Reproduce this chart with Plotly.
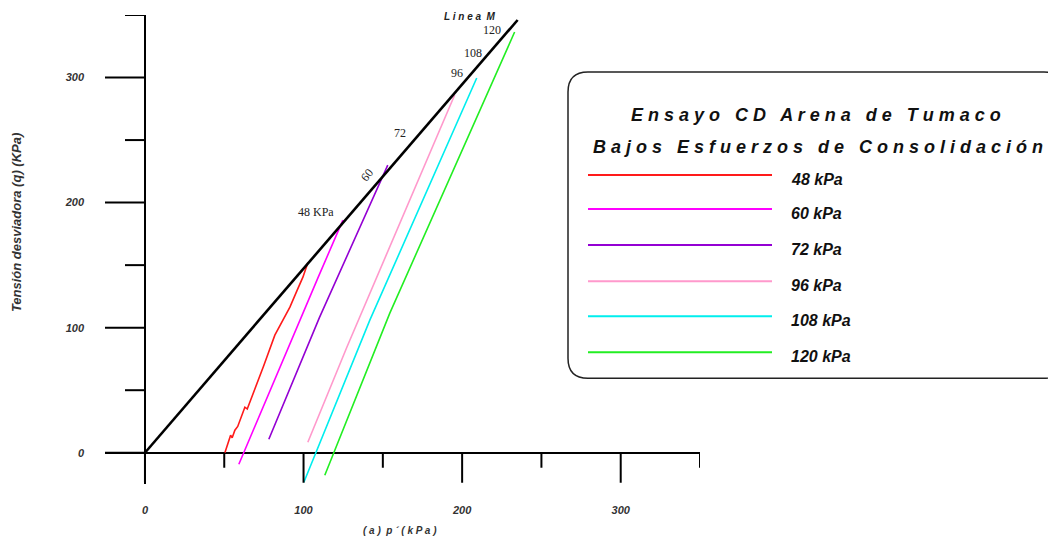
import plotly.graph_objects as go

# ---------------- data ----------------
series_names = ["48 kPa", "60 kPa", "72 kPa", "96 kPa", "108 kPa", "120 kPa"]
series_colors = ["#ff1a1a", "#ff00ff", "#9400d3", "#ff99cc", "#00eeee", "#22ee22"]

p_48 = [50.4, 52.5, 54.0, 55.0, 56.7, 58.5, 61.0, 63.0, 64.5, 66.0, 68.1, 75.0, 81.9, 86.0, 91.4, 96.0, 99.6, 102.7]
q_48 = [0.0, 8.0, 14.0, 12.0, 18.0, 21.0, 30.0, 36.4, 35.0, 40.0, 46.0, 70.0, 94.0, 104.0, 116.4, 130.0, 140.4, 152.0]

p_60 = [59.2, 89.5, 109.0, 124.8]
q_60 = [-9.2, 82.0, 139.6, 186.0]

p_72 = [78.1, 110.0, 153.1]
q_72 = [10.8, 108.0, 230.0]

p_96 = [102.7, 127.3, 195.3]
q_96 = [8.4, 84.4, 286.0]

p_108 = [100.2, 141.8, 209.2]
q_108 = [-23.6, 106.0, 299.6]

p_120 = [113.4, 154.4, 233.1]
q_120 = [-18.0, 111.6, 336.4]

line_m_p = [0.0, 235.0]
line_m_q = [0.0, 346.0]

path_labels = ["48 KPa", "60", "72", "96", "108", "120"]
path_label_p = [107.8, 140.0, 160.8, 196.7, 206.8, 218.8]
path_label_q = [192.4, 222.0, 255.6, 303.6, 319.6, 338.0]

x_major_ticks = [0, 100, 200, 300]
x_minor_ticks = [50, 150, 250, 350]
y_major_ticks = [0, 100, 200, 300]
y_minor_ticks = [50, 150, 250, 350]

# ---------------- figure geometry (screen pixels; page body has an 8px margin) ----------------
OFF = 8
W, H = 1040, 530
SL, SR, ST, SB = 105, 700, 15, 483.75          # plot area on screen
L, R, T, B = SL - OFF, SR - OFF, ST - OFF, SB - OFF
XR = [-25.2, 350]
YR = [-25, 350]

def px2paper_x(sx):
    return (sx - SL) / (SR - SL)

def px2paper_y(sy):
    return (SB - sy) / (SB - ST)

fig = go.Figure()

paths_p = [p_48, p_60, p_72, p_96, p_108, p_120]
paths_q = [q_48, q_60, q_72, q_96, q_108, q_120]
for name, col, pp, qq in zip(series_names, series_colors, paths_p, paths_q):
    fig.add_trace(go.Scatter(x=pp, y=qq, mode="lines", name=name,
                             line=dict(color=col, width=1.6), hoverinfo="skip",
                             showlegend=False))

fig.add_trace(go.Scatter(x=line_m_p, y=line_m_q, mode="lines", name="Linea M",
                         line=dict(color="black", width=2.6), hoverinfo="skip",
                         showlegend=False))

# tick marks drawn through the axes' own scales
tx, ty = [], []
for v in x_major_ticks:
    tx += [v, v, None]; ty += [0, -24, None]
for v in x_minor_ticks:
    tx += [v, v, None]; ty += [0, -12, None]
for v in y_major_ticks:
    tx += [0, -25.2, None]; ty += [v, v, None]
for v in y_minor_ticks:
    tx += [0, -12.6, None]; ty += [v, v, None]
fig.add_trace(go.Scatter(x=tx, y=ty, mode="lines", line=dict(color="black", width=2),
                         hoverinfo="skip", showlegend=False))

tick_font = dict(family="Liberation Sans, Arial", size=11, color="#333333")

fig.update_layout(
    width=W, height=H,
    margin=dict(l=L, r=W - R, t=T, b=H - B, autoexpand=False),
    paper_bgcolor="white", plot_bgcolor="white",
    showlegend=False,
    xaxis=dict(range=XR, showgrid=False, zeroline=True, zerolinecolor="black",
               zerolinewidth=2, showline=False, ticks="", tickvals=x_major_ticks,
               ticktext=[f"<b><i>{v}</i></b>" for v in x_major_ticks],
               tickfont=tick_font, ticklabelstandoff=18, automargin=False),
    yaxis=dict(range=YR, showgrid=False, zeroline=True, zerolinecolor="black",
               zerolinewidth=2, showline=False, ticks="", tickvals=y_major_ticks,
               ticktext=[f"<b><i>{v}</i></b>" for v in y_major_ticks],
               tickfont=tick_font, ticklabelstandoff=20, automargin=False),
)

# labels along the stress paths
for txt, px_, qy in zip(path_labels, path_label_p, path_label_q):
    fig.add_annotation(x=px_, y=qy, xref="x", yref="y", text=txt, showarrow=False,
                       xanchor="center", yanchor="middle",
                       font=dict(family="Liberation Serif, Times New Roman", size=12, color="#222"),
                       textangle=-50 if txt == "60" else 0)
fig.add_annotation(x=204.9, y=348.5, xref="x", yref="y", text="<b><i>L i n e a  M</i></b>",
                   showarrow=False, xanchor="center", yanchor="middle",
                   font=dict(family="Liberation Sans, Arial", size=10, color="#222"))

# axis titles
fig.add_annotation(x=px2paper_x(16), y=px2paper_y(223), xref="paper", yref="paper",
                   text="<b><i>Tensión desviadora (q) (KPa)</i></b>", textangle=-90,
                   xanchor="center", yanchor="middle",
                   showarrow=False, font=dict(family="Liberation Sans, Arial", size=13, color="#333"))
fig.add_annotation(x=px2paper_x(400), y=px2paper_y(530.5), xref="paper", yref="paper",
                   text="<b><i>( a )  p ´ ( k P a )</i></b>", xanchor="center", yanchor="middle",
                   showarrow=False, font=dict(family="Liberation Sans, Arial", size=10, color="#333"))

# legend box (rounded)
bx0, bx1, by0, by1 = px2paper_x(568), px2paper_x(1064), px2paper_y(378), px2paper_y(72)
rx, ry = 20 / (SR - SL), 20 / (SB - ST)
path = (f"M {bx0+rx},{by1} L {bx1-rx},{by1} Q {bx1},{by1} {bx1},{by1-ry} "
        f"L {bx1},{by0+ry} Q {bx1},{by0} {bx1-rx},{by0} L {bx0+rx},{by0} "
        f"Q {bx0},{by0} {bx0},{by0+ry} L {bx0},{by1-ry} Q {bx0},{by1} {bx0+rx},{by1} Z")
fig.add_shape(type="path", path=path, xref="paper", yref="paper",
              line=dict(color="#222", width=1.5), fillcolor="white", layer="above")

fig.add_annotation(x=px2paper_x(816), y=px2paper_y(115), xref="paper", yref="paper",
                   text="<b><i>" + " ".join("Ensayo CD Arena de Tumaco") + "</i></b>",
                   xanchor="center", yanchor="middle",
                   showarrow=False, font=dict(family="Liberation Sans, Arial", size=18, color="#111"))
fig.add_annotation(x=px2paper_x(818), y=px2paper_y(147), xref="paper", yref="paper",
                   text="<b><i>" + " ".join("Bajos Esfuerzos de Consolidación") + "</i></b>",
                   xanchor="center", yanchor="middle",
                   showarrow=False, font=dict(family="Liberation Sans, Arial", size=18, color="#111"))

legend_y_px = [175, 209, 245, 281, 316, 352]
for name, col, ypx in zip(series_names, series_colors, legend_y_px):
    yy = px2paper_y(ypx)
    fig.add_shape(type="line", xref="paper", yref="paper", x0=px2paper_x(588), x1=px2paper_x(772),
                  y0=yy, y1=yy, line=dict(color=col, width=2), layer="above")
    fig.add_annotation(x=px2paper_x(789), y=px2paper_y(ypx + 4), xref="paper", yref="paper",
                       text=f"<b><i>{name}</i></b>", xanchor="left", yanchor="middle", showarrow=False,
                       font=dict(family="Liberation Sans, Arial", size=16, color="#111"))

fig.write_html("out.html")
